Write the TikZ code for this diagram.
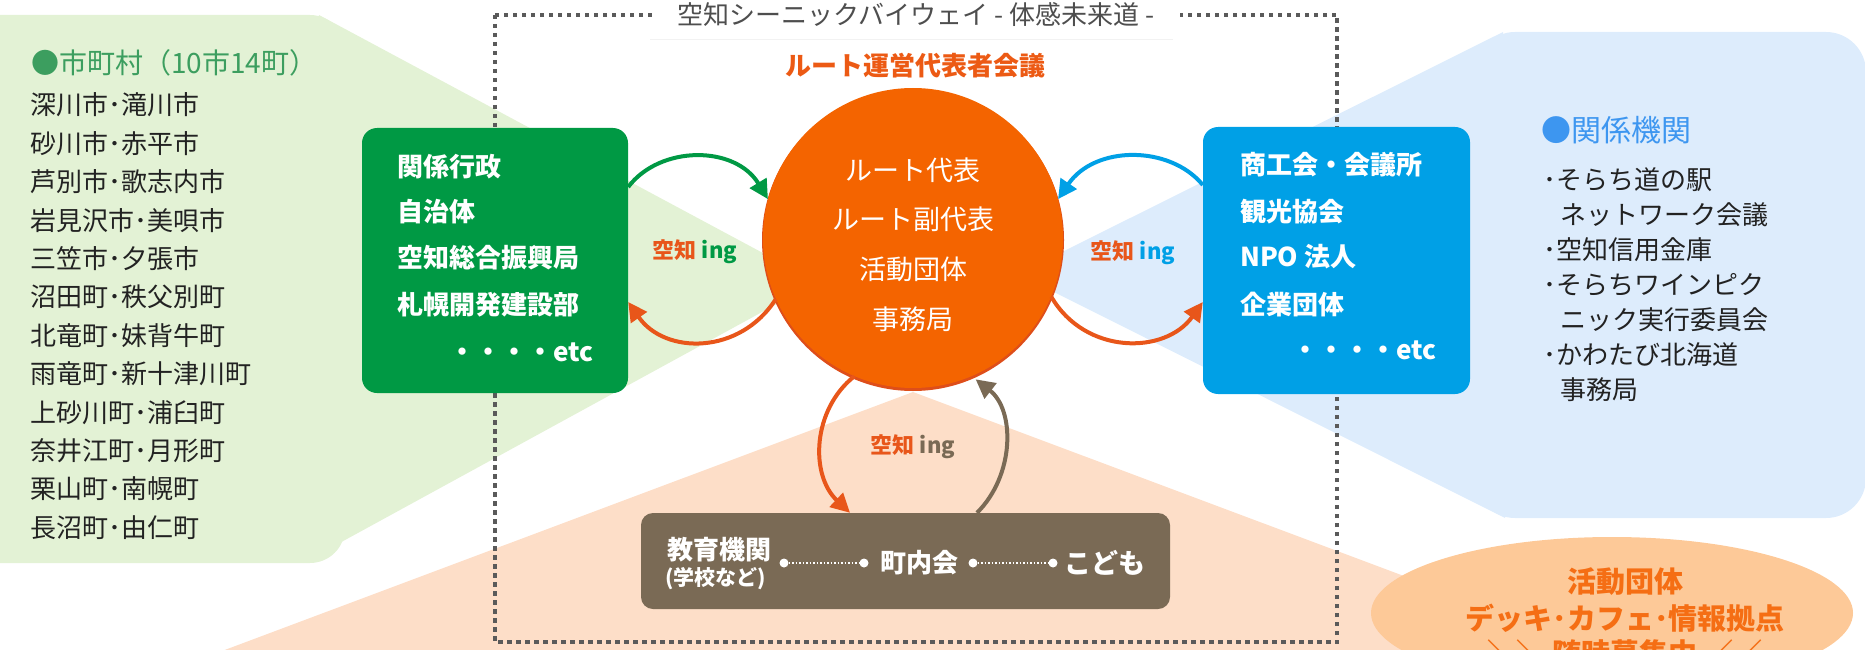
\documentclass[tikz,border=0pt]{standalone}
\usepackage{fontspec}
\setmainfont{Noto Sans CJK JP}
\usetikzlibrary{arrows.meta,shapes.geometric}
\definecolor{lgreen}{HTML}{E3F2D5}
\definecolor{lblue}{HTML}{DDECFC}
\definecolor{peach}{HTML}{FDDEC8}
\definecolor{ellc}{HTML}{FDC998}
\definecolor{gboxc}{HTML}{009944}
\definecolor{bboxc}{HTML}{00A0E6}
\definecolor{brboxc}{HTML}{7A6A55}
\definecolor{orng}{HTML}{F46400}
\definecolor{orngdk}{HTML}{DE4E1A}
\definecolor{arrorng}{HTML}{E8561A}
\definecolor{ttlorng}{HTML}{EC5A14}
\definecolor{hgreen}{HTML}{3C9E5F}
\definecolor{hblue}{HTML}{3D96F0}
\definecolor{framec}{HTML}{5A5A5A}
\definecolor{txtc}{HTML}{222222}
\definecolor{ttlgray}{HTML}{4E4E4E}
\definecolor{elltxt}{HTML}{F56E14}
\newcommand\fsz[1]{\fontsize{#1}{#1}\selectfont}
\begin{document}
\begin{tikzpicture}[x=1pt,y=-1pt,
  framest/.style={draw=framec,line width=3.5pt,dash pattern=on 4.5pt off 4.5pt},
  boxtxt/.style={anchor=west,text=white,font=\fsz{26}\bfseries,inner sep=0pt},
  listtxt/.style={anchor=west,text=txtc,font=\fsz{26},inner sep=0pt},
  circtxt/.style={text=white,font=\fsz{27},inner sep=0pt},
  ingtxt/.style={font=\fsz{22}\bfseries,inner sep=0pt},
  arr/.style={line width=4pt,-{Triangle[length=19pt,width=19pt]}},
  bdot/.style={circle,fill=white,minimum size=9pt,inner sep=0pt},
  elltx/.style={text=elltxt,font=\fsz{29}\bfseries,inner sep=0pt}]
\useasboundingbox (0,0) rectangle (1865,650);
\clip (0,0) rectangle (1865,650);
% background regions
\fill[lgreen,rounded corners=35pt] (-60,15) rectangle (345,563);
\fill[lgreen] (319,15) -- (817,282) -- (303,563) -- cycle;
\fill[lblue,rounded corners=40pt] (1475,32) rectangle (1866,518);
\fill[lblue] (1503,32) -- (1018,274) -- (1505,518) -- cycle;
\fill[peach] (913,392) -- (1628,660) -- (198,660) -- cycle;
% faint rule under the title
\draw[line width=1pt,black!5] (650,40) -- (1173,40);
% dotted frame
\draw[framest] (495,15) rectangle (1337,642);
\node[fill=white,inner xsep=26pt,inner ysep=4pt,text=ttlgray,font=\fsz{26}] (title) at (916,15) {空知シーニックバイウェイ - 体感未来道 -};
\node[text=ttlorng,font=\fsz{26}\bfseries,inner sep=0pt] (council) at (915,66) {ルート運営代表者会議};
% left list
\node[anchor=west,text=hgreen,font=\fsz{28},inner sep=0pt] (lhead) at (31,63) {●市町村（10市14町）};
\node[listtxt] (l1) at (30,105) {深川市･滝川市};
\node[listtxt] (l2) at (30,143.4) {砂川市･赤平市};
\node[listtxt] (l3) at (30,181.8) {芦別市･歌志内市};
\node[listtxt] (l4) at (30,220.2) {岩見沢市･美唄市};
\node[listtxt] (l5) at (30,258.6) {三笠市･夕張市};
\node[listtxt] (l6) at (30,297) {沼田町･秩父別町};
\node[listtxt] (l7) at (30,335.4) {北竜町･妹背牛町};
\node[listtxt] (l8) at (30,373.8) {雨竜町･新十津川町};
\node[listtxt] (l9) at (30,412.2) {上砂川町･浦臼町};
\node[listtxt] (l10) at (30,450.6) {奈井江町･月形町};
\node[listtxt] (l11) at (30,489) {栗山町･南幌町};
\node[listtxt] (l12) at (30,527.4) {長沼町･由仁町};
% right list
\node[anchor=west,text=hblue,font=\fsz{30},inner sep=0pt] (rhead) at (1541,130) {●関係機関};
\node[listtxt] (r1) at (1543,180) {･そらち道の駅};
\node[listtxt] (r2) at (1560,215) {ネットワーク会議};
\node[listtxt] (r3) at (1543,250) {･空知信用金庫};
\node[listtxt] (r4) at (1543,285) {･そらちワインピク};
\node[listtxt] (r5) at (1560,320) {ニック実行委員会};
\node[listtxt] (r6) at (1543,355) {･かわたび北海道};
\node[listtxt] (r7) at (1560,390) {事務局};
% green box
\node[fill=gboxc,rounded corners=15pt,minimum width=266pt,minimum height=265pt,inner sep=0pt] (gbox) at (495,260.5) {};
\node[boxtxt] (g1) at (397,167) {関係行政};
\node[boxtxt] (g2) at (397,212) {自治体};
\node[boxtxt] (g3) at (397,258) {空知総合振興局};
\node[boxtxt] (g4) at (397,305) {札幌開発建設部};
\node[boxtxt] (g5) at (449,352) {・・・・etc};
% blue box
\node[fill=bboxc,rounded corners=15pt,minimum width=267pt,minimum height=267pt,inner sep=0pt] (bbox) at (1336.5,260.5) {};
\node[boxtxt] (b1) at (1240,165) {商工会・会議所};
\node[boxtxt] (b2) at (1240,212) {観光協会};
\node[boxtxt] (b3) at (1240,257) {NPO 法人};
\node[boxtxt] (b4) at (1240,305) {企業団体};
\node[boxtxt] (b5) at (1292,350) {・・・・etc};
% brown box
\node[fill=brboxc,rounded corners=12pt,minimum width=529pt,minimum height=96pt,inner sep=0pt] (brbox) at (905.5,561) {};
\node[boxtxt] (e1) at (667,550) {教育機関};
\node[anchor=west,text=white,font=\fsz{21}\bfseries,inner sep=0pt] (e2) at (665,579) {(学校など)};
\node[bdot] (d1) at (784,563) {};
\node[bdot] (d2) at (864,563) {};
\node[bdot] (d3) at (973,563) {};
\node[bdot] (d4) at (1053,563) {};
\draw[white,line width=1.3pt,dash pattern=on 1.5pt off 2pt] (d1) -- (d2);
\draw[white,line width=1.3pt,dash pattern=on 1.5pt off 2pt] (d3) -- (d4);
\node[text=white,font=\fsz{26}\bfseries,inner sep=0pt] (e3) at (919,563) {町内会};
\node[text=white,font=\fsz{27}\bfseries,inner sep=0pt] (e4) at (1105,563) {こども};
% central circle
\node[circle,fill=orngdk,minimum size=302pt,inner sep=0pt] (circsh) at (913,240) {};
\node[circle,fill=orng,minimum size=300pt,inner sep=0pt] (circ) at (913,238) {};
\node[circtxt] (c1) at (913,170) {ルート代表};
\node[circtxt] (c2) at (913,219) {ルート副代表};
\node[circtxt] (c3) at (913,269) {活動団体};
\node[circtxt] (c4) at (913,319) {事務局};
% ellipse
\node[ellipse,fill=ellc,minimum width=482pt,minimum height=152pt,inner sep=0pt] (ell) at (1612,613) {};
\node[elltx] (t1) at (1625,582) {活動団体};
\node[elltx] (t2) at (1625,618) {デッキ･カフェ･情報拠点};
\node[elltx] (t3) at (1625,654) {＼＼ 随時募集中 ／／};
% labels
\node[ingtxt] (ingL) at (695,252) {\textcolor{arrorng}{空知} \textcolor{gboxc}{ing}};
\node[ingtxt] (ingR) at (1133,253) {\textcolor{arrorng}{空知} \textcolor{bboxc}{ing}};
\node[ingtxt] (ingB) at (913,447) {\textcolor{arrorng}{空知} \textcolor{brboxc}{ing}};
% arrows
\draw[arr,gboxc] ([yshift=73.5pt]gbox.east) .. controls (660,145) and (735,145) .. (circ.165);
\draw[arr,arrorng] (circ.204) .. controls (740,355) and (665,355) .. ([yshift=-41.5pt]gbox.east);
\draw[arr,bboxc] ([yshift=75.5pt]bbox.west) .. controls (1170,145) and (1095,145) .. (circ.15);
\draw[arr,arrorng] (circ.-23) .. controls (1085,355) and (1165,355) .. ([yshift=-41.5pt]bbox.west);
\draw[arr,arrorng] (circ.247) .. controls (812,410) and (810,475) .. ([xshift=-55.5pt]brbox.north);
\draw[arr,brboxc,shorten >=5pt] ([xshift=71.5pt]brbox.north) .. controls (1015,475) and (1015,410) .. (circ.293);
\end{tikzpicture}
\end{document}
